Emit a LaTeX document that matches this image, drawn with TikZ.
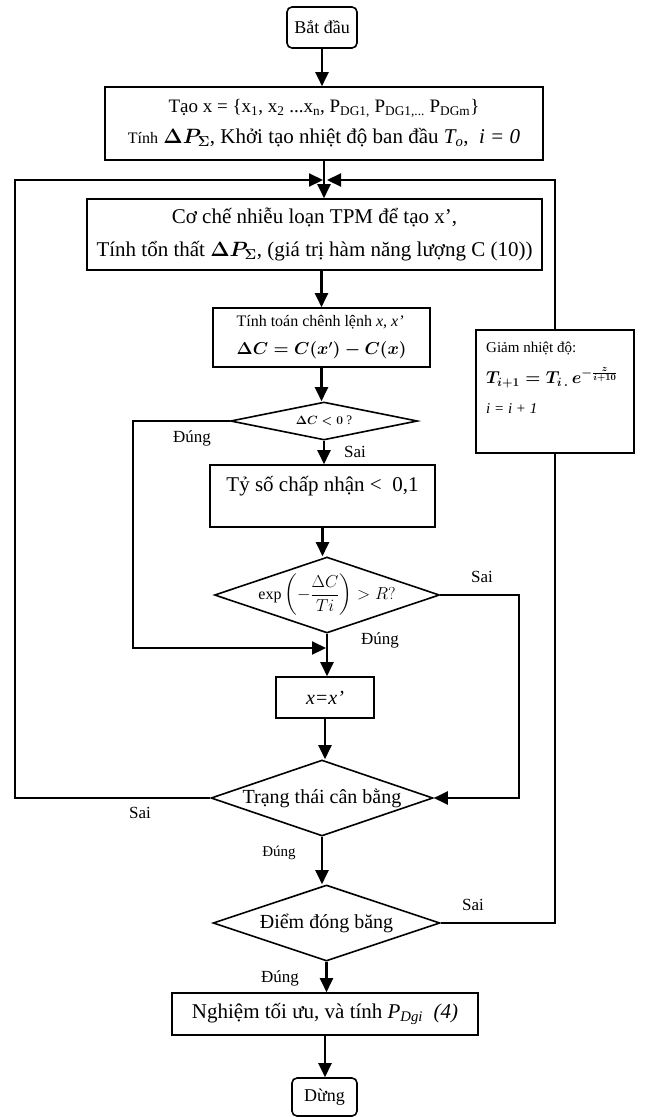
\documentclass[tikz,border=0pt]{standalone}
\usepackage{fontspec}
\setmainfont{Liberation Serif}
\usepackage{amsmath}
\usetikzlibrary{arrows.meta,shapes.geometric}
\begin{document}
\begin{tikzpicture}[x=1pt,y=-1pt,
  every node/.style={font=\fontsize{18}{22}\selectfont},
  box/.style={draw, line width=1.6pt, inner sep=0pt, align=center},
  rbox/.style={box, rounded corners=5pt},
  dia/.style={draw, diamond, line width=1.6pt, inner sep=0pt},
  conn/.style={line width=2.2pt},
  arr/.style={conn, -{Triangle[length=14pt,width=13pt]}},
  lbl/.style={inner sep=0pt, font=\fontsize{17}{20}\selectfont}
]
\useasboundingbox (0,0) rectangle (645,1117);

% main nodes
\node[rbox, minimum width=70pt, minimum height=41pt] (start) at (322,27.5) {Bắt đầu};
\node[box, minimum width=438pt, minimum height=73pt] (b1) at (324,123.5)
  {\fontsize{19}{22}\selectfont Tạo x = \{x\textsubscript{1}, x\textsubscript{2} ...x\textsubscript{n}, P\textsubscript{DG1,} P\textsubscript{DG1,...} P\textsubscript{DGm}\}\\[9pt]
   \fontsize{21}{22}\selectfont{\fontsize{16}{18}\selectfont Tính} {\boldmath$\Delta P_{\Sigma}$}, Khởi tạo nhiệt độ ban đầu \textit{T\textsubscript{o}},\ \ \textit{i = 0}};
\node[box, minimum width=455pt, minimum height=71pt, font=\fontsize{21}{22}\selectfont] (b2) at (314.5,234.5)
  {Cơ chế nhiễu loạn TPM để tạo x’,\\[11pt] Tính tổn thất {\boldmath$\Delta P_{\Sigma}$}, (giá trị hàm năng lượng C (10))};
\node[box, minimum width=217pt, minimum height=59pt, align=left, font=\fontsize{16}{19}\selectfont] (b3) at (321.5,337.5)
  {Tính toán chênh lệnh \textit{x, x’}\\[9pt] {\boldmath$\Delta C = C(x') - C(x)$}};
\node[dia, minimum width=187pt, minimum height=38pt, aspect=4.9] (d1) at (324,421)
  {\fontsize{13}{15}\selectfont {\boldmath$\Delta C<0$} ?};
\node[box, minimum width=225pt, minimum height=62pt] (b4) at (322.5,496) {};
\node[inner sep=0pt, font=\fontsize{21}{22}\selectfont] (b4t) at (322.5,486) {Tỷ số chấp nhận <\ \ 0,1};
\node[dia, minimum width=225pt, minimum height=76pt, aspect=2.96] (d2) at (327,595) {};
\node[inner sep=0pt, font=\fontsize{16}{18}\selectfont] (d2t) at (327,595)
  {$\exp\left(-\dfrac{\Delta C}{Ti}\right) > R?$};
\node[box, minimum width=98pt, minimum height=41pt] (b5) at (325,697.5)
  {\fontsize{20}{24}\selectfont\textit{x=x’}};
\node[dia, minimum width=222pt, minimum height=76pt, aspect=2.92] (d3) at (322,798)
  {\fontsize{20}{22}\selectfont Trạng thái cân bằng};
\node[dia, minimum width=227pt, minimum height=76pt, aspect=2.99] (d4) at (326.5,923)
  {\fontsize{20}{22}\selectfont Điểm đóng băng};
\node[box, minimum width=306pt, minimum height=42pt] (b6) at (325,1014)
  {\fontsize{21}{22}\selectfont Nghiệm tối ưu, và tính \textit{P\textsubscript{Dgi}}\ \ \textit{(4)}};
\node[rbox, minimum width=65pt, minimum height=38pt] (stop) at (324.5,1097) {Dừng};

% temperature box
\node[box, minimum width=158pt, minimum height=123pt] (g) at (555,391.5) {};
\node[anchor=north west, inner sep=0pt, align=left, font=\fontsize{15}{18}\selectfont] (gt) at (486,342)
  {Giảm nhiệt độ:\\[11pt] {\fontsize{17.5}{20}\selectfont\boldmath $T_{i+1} = T_{i\,.}\, e^{-\frac{z}{i+10}}$}\\[12pt] \textit{i = i + 1}};

% helper coordinates
\coordinate (Lx) at (15,180);
\coordinate (L2) at (133,648);
\coordinate (R2) at (519,595);

% main flow
\draw[arr] (start.south) -- (start.south |- b1.north);
\draw[arr] (b1.south) -- (b1.south |- b2.north);
\draw[arr] (b3.north |- b2.south) -- (b3.north);
\draw[arr] (b3.south) -- (b3.south |- d1.north);
\draw[arr] (d1.south) -- (d1.south |- b4.north);
\draw[arr] (b4.south) -- (b4.south |- d2.north);
\draw[arr] (d2.south) -- (d2.south |- b5.north);
\draw[arr] (b5.south) -- (b5.south |- d3.north);
\draw[arr] (d3.south) -- (d3.south |- d4.north);
\draw[arr] (d4.south) -- (d4.south |- b6.north);
\draw[arr] (b6.south) -- (b6.south |- stop.north);

% loops
\draw[arr] (d3.west) -- (d3.west -| Lx) -- (Lx) -- ([xshift=-1pt]Lx -| b1.south);
\draw[conn] (d4.east) -- (d4.east -| g.south) -- (g.south);
\draw[arr] (g.north) -- (g.north |- Lx) -- ([xshift=3pt]Lx -| b1.south);
\draw[arr] (d1.west) -- (d1.west -| L2) -- (L2) -- ([xshift=-1pt]L2 -| d2.south);
\draw[arr] (d2.east) -- (R2) -- (R2 |- d3.east) -- (d3.east);

% labels
\node[lbl] (l1) at (192,438) {Đúng};
\node[lbl] (l2) at (355,452) {Sai};
\node[lbl] (l3) at (482,577) {Sai};
\node[lbl] (l4) at (380,640) {Đúng};
\node[lbl] (l5) at (140,813) {Sai};
\node[lbl, font=\fontsize{15}{18}\selectfont] (l6) at (279,853) {Đúng};
\node[lbl] (l7) at (473,905) {Sai};
\node[lbl] (l8) at (280,978) {Đúng};
\end{tikzpicture}
\end{document}
